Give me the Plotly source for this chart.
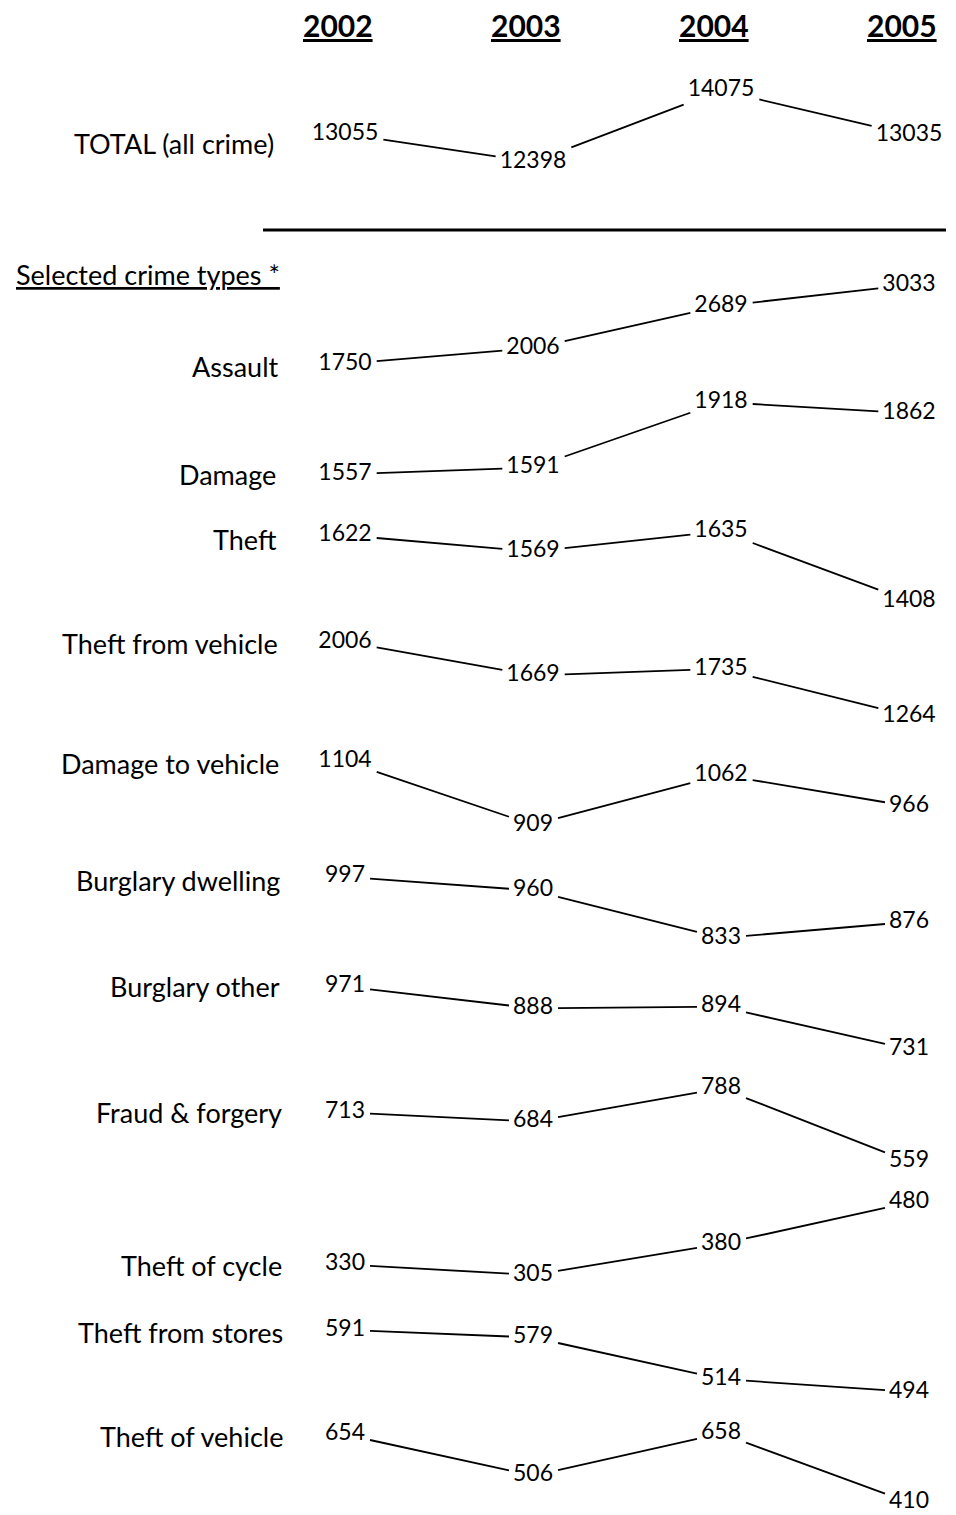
import plotly.graph_objects as go

# ---------------- data ----------------
YEARS = [2002, 2003, 2004, 2005]
ROW_LABELS = [
    "TOTAL (all crime)", "Assault", "Damage", "Theft", "Theft from vehicle",
    "Damage to vehicle", "Burglary dwelling", "Burglary other",
    "Fraud &amp; forgery", "Theft of cycle", "Theft from stores", "Theft of vehicle",
]
TOTAL_ALL = [13055, 12398, 14075, 13035]
ASSAULT = [1750, 2006, 2689, 3033]
DAMAGE = [1557, 1591, 1918, 1862]
THEFT = [1622, 1569, 1635, 1408]
THEFT_FROM_VEHICLE = [2006, 1669, 1735, 1264]
DAMAGE_TO_VEHICLE = [1104, 909, 1062, 966]
BURGLARY_DWELLING = [997, 960, 833, 876]
BURGLARY_OTHER = [971, 888, 894, 731]
FRAUD_FORGERY = [713, 684, 788, 559]
THEFT_OF_CYCLE = [330, 305, 380, 480]
THEFT_FROM_STORES = [591, 579, 514, 494]
THEFT_OF_VEHICLE = [654, 506, 658, 410]
SERIES = [TOTAL_ALL, ASSAULT, DAMAGE, THEFT, THEFT_FROM_VEHICLE, DAMAGE_TO_VEHICLE,
          BURGLARY_DWELLING, BURGLARY_OTHER, FRAUD_FORGERY, THEFT_OF_CYCLE,
          THEFT_FROM_STORES, THEFT_OF_VEHICLE]
SECTION_TITLE = "Selected crime types *"

# ---------------- layout / style ----------------
PAGE_W, PAGE_H = 956, 1515
BODY_MARGIN = 8                      # default page margin around the figure
W, H = PAGE_W - BODY_MARGIN, PAGE_H - BODY_MARGIN
FONT = "Lato"


def px_x(p):
    return (p - BODY_MARGIN) / W


def px_y(p):
    return 1 - (p - BODY_MARGIN) / H


# pixel band (page coordinates) of each row: where its max and min value sit
ROW_TOP_PX = [90.4, 285.0, 402.1, 531.3, 641.8, 761.1, 876.7, 986.6, 1088.3, 1202.7, 1329.8, 1433.4]
ROW_BOTTOM_PX = [162.0, 363.8, 474.3, 600.9, 715.9, 824.9, 938.0, 1049.3, 1161.7, 1274.9, 1391.8, 1502.5]
LABEL_YSHIFT = [-10, -3, 0, -4, -2, -2, -4, 0, 0, -1, -3, -2]
LABEL_RIGHT_PX = [276, 281, 278, 279, 280, 281, 282, 282, 284, 284, 285, 285]
COL_2002_PX = 345
COL_STEP_PX = 188
X_RANGE = [2002 - (COL_2002_PX - BODY_MARGIN) / COL_STEP_PX,
           2002 + (PAGE_W - COL_2002_PX) / COL_STEP_PX]
PX_PER_YEAR = COL_STEP_PX
NUM_SIZE = 23
LABEL_SIZE = 27
DIGIT_W = 0.58 * NUM_SIZE
GAP_L, GAP_R = 5, 4

fig = go.Figure()
layout_axes = {}

for r, vals in enumerate(SERIES):
    yname = "y" if r == 0 else f"y{r + 1}"
    axkey = "yaxis" if r == 0 else f"yaxis{r + 1}"
    vmin, vmax = min(vals), max(vals)
    layout_axes[axkey] = dict(
        domain=[px_y(ROW_BOTTOM_PX[r]), px_y(ROW_TOP_PX[r])],
        range=[vmin, vmax], visible=False, anchor="x", fixedrange=True,
    )
    lx, ly = [], []
    for i in range(len(YEARS) - 1):
        x0, x1 = YEARS[i], YEARS[i + 1]
        y0, y1 = vals[i], vals[i + 1]
        dx, dy = x1 - x0, y1 - y0
        hw0 = len(str(y0)) * DIGIT_W / 2
        hw1 = len(str(y1)) * DIGIT_W / 2
        t0 = (hw0 + GAP_L) / PX_PER_YEAR / dx
        t1 = (hw1 + GAP_R) / PX_PER_YEAR / dx
        lx += [x0 + t0 * dx, x1 - t1 * dx, None]
        ly += [y0 + t0 * dy, y1 - t1 * dy, None]
    fig.add_trace(go.Scatter(
        x=lx, y=ly, mode="lines", yaxis=yname, xaxis="x",
        line=dict(color="black", width=1.8), hoverinfo="skip", showlegend=False,
        cliponaxis=False,
    ))
    fig.add_trace(go.Scatter(
        x=YEARS, y=vals, mode="text", text=[str(v) for v in vals],
        textposition="middle center", yaxis=yname, xaxis="x",
        textfont=dict(family=FONT, size=NUM_SIZE, color="black"),
        hoverinfo="skip", showlegend=False, cliponaxis=False,
    ))

annotations = []
for r, lab in enumerate(ROW_LABELS):
    yname = "y" if r == 0 else f"y{r + 1}"
    annotations.append(dict(
        text=lab, xref="paper", x=px_x(LABEL_RIGHT_PX[r]), xanchor="right",
        yref=yname, y=SERIES[r][0], yanchor="middle", yshift=LABEL_YSHIFT[r],
        showarrow=False, font=dict(family=FONT, size=LABEL_SIZE, color="black"),
    ))
for yr in YEARS:
    annotations.append(dict(
        text=f"<b><u>{yr}</u></b>", xref="x", x=yr, xshift=-7,
        yref="paper", y=px_y(25), yanchor="middle",
        showarrow=False, font=dict(family=FONT, size=30, color="black"),
    ))
annotations.append(dict(
    text=f"<u>{SECTION_TITLE}</u>", xref="paper", x=px_x(14), xanchor="left",
    yref="paper", y=px_y(274), yanchor="middle",
    showarrow=False, font=dict(family=FONT, size=LABEL_SIZE, color="black"),
))

fig.update_layout(
    width=W, height=H, margin=dict(l=0, r=0, t=0, b=0),
    paper_bgcolor="white", plot_bgcolor="white",
    xaxis=dict(range=X_RANGE, visible=False, fixedrange=True, domain=[0, 1]),
    annotations=annotations,
    shapes=[dict(type="line", xref="paper", yref="paper",
                 x0=px_x(263), x1=px_x(946), y0=px_y(230), y1=px_y(230),
                 line=dict(color="black", width=3))],
    showlegend=False,
    **layout_axes,
)

fig.write_html("out.html")
